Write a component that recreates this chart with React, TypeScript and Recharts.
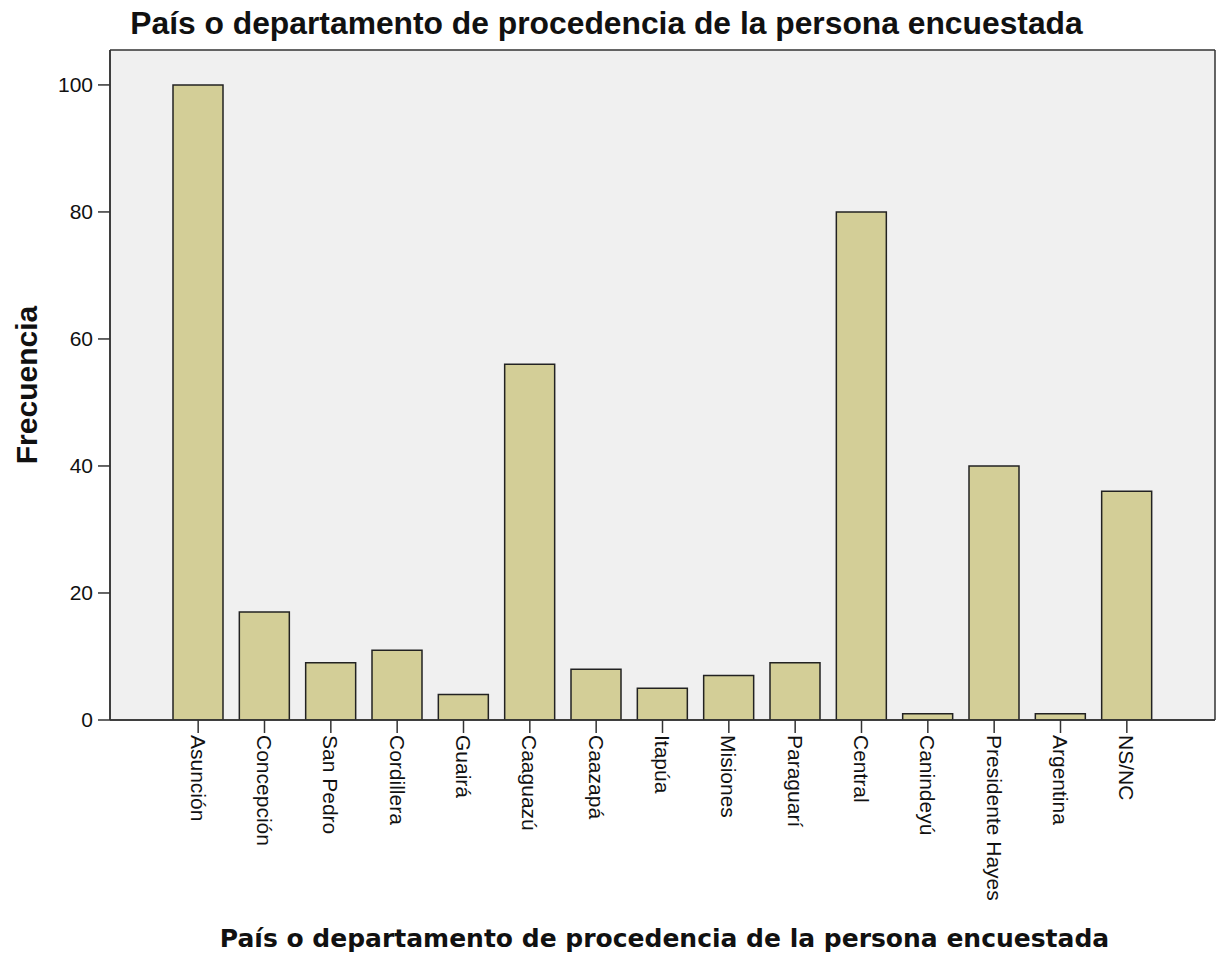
import { BarChart, Bar, XAxis, YAxis, CartesianGrid } from "recharts";

const departamentos = [
  "Asunción",
  "Concepción",
  "San Pedro",
  "Cordillera",
  "Guairá",
  "Caaguazú",
  "Caazapá",
  "Itapúa",
  "Misiones",
  "Paraguarí",
  "Central",
  "Canindeyú",
  "Presidente Hayes",
  "Argentina",
  "NS/NC",
];
const frecuencias = [100, 17, 9, 11, 4, 56, 8, 5, 7, 9, 80, 1, 40, 1, 36];
const yTicks = [0, 20, 40, 60, 80, 100];

const titulo = "País o departamento de procedencia de la persona encuestada";

const data = departamentos.map((name, i) => ({ name, value: frecuencias[i] }));

const FONT = "'Liberation Sans', Arial, sans-serif";

function XTick({ x, y, payload }: any) {
  return (
    <g transform={`translate(${x},${y})`}>
      <text transform="rotate(90)" x={0} y={0} dy="0.35em" textAnchor="start" fontSize={21} fontFamily={FONT} fill="#111">
        {payload.value}
      </text>
    </g>
  );
}

export default function App() {
  return (
    <div style={{ position: "absolute", left: 0, top: 0, width: 1221, height: 956, background: "#fff" }}>
      <div
        style={{
          position: "absolute",
          left: 0,
          width: 1213,
          top: 5,
          textAlign: "center",
          fontFamily: FONT,
          fontWeight: "bold",
          fontSize: 31.8,
          lineHeight: "37px",
          color: "#111",
        }}
      >
        {titulo}
      </div>
      <BarChart width={1221} height={956} data={data} margin={{ top: 50, right: 6, left: 0, bottom: 0 }}>
        <CartesianGrid
          fill="#f0f0f0"
          stroke="#333"
          strokeWidth={1.5}
          horizontalCoordinatesGenerator={({ offset }: any) => [offset.top, offset.top + offset.height]}
          verticalCoordinatesGenerator={({ offset }: any) => [offset.left, offset.left + offset.width]}
        />
        <XAxis
          dataKey="name"
          interval={0}
          height={236}
          padding={{ left: 55, right: 55 }}
          tickSize={13}
          tickMargin={2}
          tick={<XTick />}
          axisLine={{ stroke: "#333", strokeWidth: 1.5 }}
          tickLine={{ stroke: "#333", strokeWidth: 1.5 }}
          label={(props: any) => {
            const vb = props.viewBox;
            return (
              <text
                x={vb.x + vb.width / 2 + 2}
                y={vb.y + vb.height - 9}
                textAnchor="middle"
                fontFamily="'DejaVu Sans', Verdana, sans-serif"
                fontWeight="bold"
                fontSize={25}
                fill="#111"
              >
                {titulo}
              </text>
            );
          }}
        />
        <YAxis
          width={110}
          domain={[0, 105.5]}
          ticks={yTicks}
          allowDataOverflow={true}
          tickSize={12}
          tickMargin={5}
          tick={{ fontSize: 21, fontFamily: FONT, fill: "#111" }}
          axisLine={{ stroke: "#333", strokeWidth: 1.5 }}
          tickLine={{ stroke: "#333", strokeWidth: 1.5 }}
          label={(props: any) => {
            const vb = props.viewBox;
            const cx = vb.x + 37;
            const cy = vb.y + vb.height / 2;
            return (
              <text
                x={cx}
                y={cy}
                transform={`rotate(-90, ${cx}, ${cy})`}
                textAnchor="middle"
                fontFamily={FONT}
                fontWeight="bold"
                fontSize={30}
                fill="#111"
              >
                Frecuencia
              </text>
            );
          }}
        />
        <Bar dataKey="value" fill="#d3ce97" stroke="#222" strokeWidth={1.5} barSize={50} isAnimationActive={false} />
      </BarChart>
    </div>
  );
}
